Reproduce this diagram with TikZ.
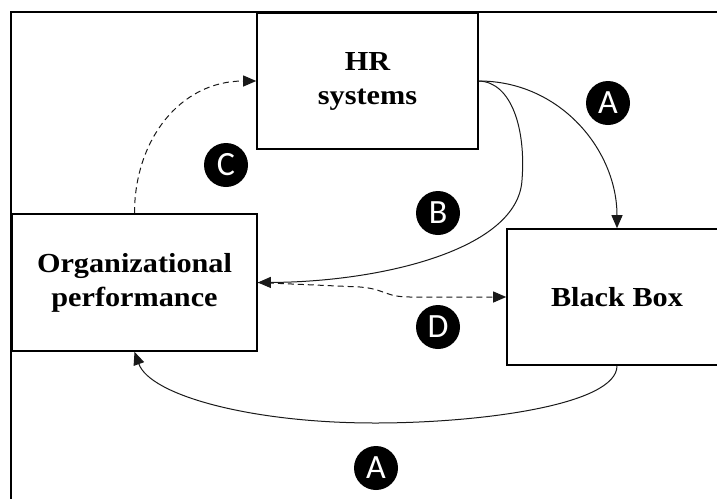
\documentclass[tikz,border=0pt]{standalone}
\usepackage{fontspec}
\setmainfont{Liberation Serif}[FakeStretch=1.1]
\newfontfamily\circfont{Carlito}
\usetikzlibrary{arrows.meta}
\begin{document}
\begin{tikzpicture}[x=1pt,y=-1pt,
  box/.style={draw, line width=1.6pt, minimum width=#1, inner sep=0pt, align=center,
     font=\fontsize{27.5}{34}\selectfont\bfseries},
  lbl/.style={circle, fill=black, minimum size=44pt, inner sep=0pt, text=white,
     font=\circfont\fontsize{34}{34}\selectfont},
  conn/.style={line width=1pt, draw=black!90, -{Triangle[length=13pt,width=11pt]}},
  dconn/.style={conn, dash pattern=on 6pt off 4pt}]
\useasboundingbox (0,0) rectangle (717,499);
\begin{scope}
\clip (0,0) rectangle (717,499);
\draw[line width=2pt] (10,12) -- (717,12);
\draw[line width=2pt] (11,12) -- (11,499);
\node[box=221pt, minimum height=136pt] (hr) at (367.5,81) {HR\\systems};
\node[box=245pt, minimum height=137pt] (org) at (134.5,282.5) {Organizational\\performance};
\node[box=220pt, minimum height=136pt] (bb) at (617,297) {Black Box};
\end{scope}
% A top
\draw[conn] (hr.east) .. controls (560,81) and (617,150) .. (bb.north);
% B
\draw[conn] (hr.east) .. controls (512,82) and (526,130) .. (522,180)
   .. controls (518,250) and (380,282) .. (org.east);
% C
\draw[dconn] (org.north) .. controls (134.5,140) and (180,81) .. (hr.west);
% D
\draw[dconn] (org.east) -- (360,287) .. controls (385,289) and (385,297) .. (410,297) -- (bb.west);
% A bottom
\draw[conn] (bb.south) .. controls (617,405) and (480,423) .. (375,423)
   .. controls (250,423) and (150,395) .. (org.south);
\node[lbl] (la1) at (608,103) {A};
\node[lbl] (lb) at (438,213) {B};
\node[lbl] (lc) at (226,165) {C};
\node[lbl] (ld) at (438,327) {D};
\node[lbl] (la2) at (376,468) {A};
\end{tikzpicture}
\end{document}
